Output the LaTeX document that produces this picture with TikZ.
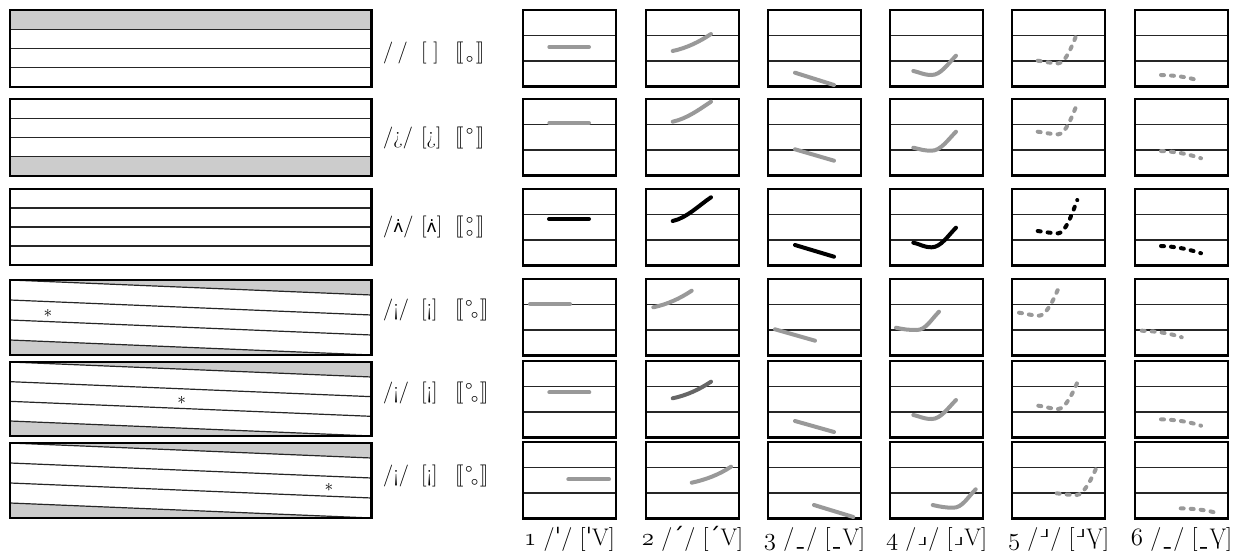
\documentclass[tikz,border=0pt]{standalone}
\usepackage{fontspec}
\usepackage{graphicx}
\newfontfamily\ipa{DejaVu Sans}
\newcommand\dlb{[\kern-0.13em[}
\newcommand\drb{]\kern-0.13em]}
\newcommand\rdn{\raisebox{-0.58em}{°}}
\newcommand\osn[1]{$\mathnormal{#1}$}
\newcommand\lowfoot{{\ipa\scalebox{1}[0.5]{˩}}}
\newcommand\highfoot{\raisebox{0.33em}{\lowfoot}}
\newcommand\inbox[3]{\begin{scope}[shift={(#1,#2)}]#3\end{scope}}
\newcommand\cRise[3]{\draw[#1] #2 .. controls +(14,-3) and +(-12,8) .. #3;}
\newcommand\cFall[3]{\draw[#1,dots] #2 .. controls +(15,0.5) and +(-12,-4) .. #3;}
\newcommand\cHookA[4]{\draw[#1] #2 .. controls +(8,1.8) and +(-8,0) .. #3 .. controls +(9,0) and +(-8,8) .. #4;}
\newcommand\cHookB[4]{\draw[#1,dots] #2 .. controls +(8,1) and +(-7,0) .. #3 .. controls +(7,0) and +(-5,13) .. #4;}
\newcommand\Vmark{\ooalign{V\cr\hidewidth{\ipa ˌ}\hidewidth\cr}}
\newcommand\wedot{{\ipa\fontsize{17}{17}\selectfont ʌ̇}}
\begin{document}
\begin{tikzpicture}[x=1pt,y=-1pt,
  frame/.style={line width=2.8pt},
  rule/.style={line width=1.2pt, black!85},
  shade/.style={fill=black!20},
  ctr/.style={line width=4pt, line cap=round, black!40},
  ctrdark/.style={ctr, black!60},
  ctrblack/.style={ctr, black},
  dots/.style={dash pattern=on 3pt off 7pt},
  lab/.style={anchor=base west, inner sep=0pt, font=\fontsize{22}{22}\selectfont},
  blab/.style={anchor=base, inner sep=0pt, font=\fontsize{24}{24}\selectfont},
  ast/.style={inner sep=0pt, font=\fontsize{17}{17}\selectfont},
]
\useasboundingbox (0,0) rectangle (1251,559);

% ---------- left boxes, level ----------
\fill[shade] (10,10) rectangle (371.5,29.25);
\draw[rule] (10,29.25) -- (371.5,29.25) (10,48.5) -- (371.5,48.5) (10,67.75) -- (371.5,67.75);
\draw[frame] (10,10) rectangle (371.5,87);

\fill[shade] (10,156.75) rectangle (371.5,176);
\draw[rule] (10,118.25) -- (371.5,118.25) (10,137.5) -- (371.5,137.5) (10,156.75) -- (371.5,156.75);
\draw[frame] (10,99) rectangle (371.5,176);

\draw[rule] (10,208) -- (371.5,208) (10,227) -- (371.5,227) (10,246) -- (371.5,246);
\draw[frame] (10,189) rectangle (371.5,265);

% ---------- left boxes, declining ----------
\foreach \T/\H in {280/75, 362/74, 443/75}{
  \fill[shade] (10,\T) -- (371.5,\T) -- (371.5,\T+15) -- cycle;
  \fill[shade] (10,\T+\H-15) -- (371.5,\T+\H) -- (10,\T+\H) -- cycle;
  \foreach \k in {0,1,2,3}{
    \draw[rule] (10,{\T+\k*(\H-15)/3}) -- (371.5,{\T+15+\k*(\H-15)/3});
  }
  \draw[frame] (10,\T) rectangle (371.5,\T+\H);
}
\node[ast] (ast4) at (48,313) {$\ast$};
\node[ast] (ast5) at (181.7,400) {$\ast$};
\node[ast] (ast6) at (329,487.3) {$\ast$};

% ---------- side labels ----------
\node[lab] (p1) at (383,58.5) {/\kern0.2em/};
\node[lab] (b1) at (421,58.5) {[\kern0.3em]};
\node[lab] (d1) at (455,58.5) {\dlb\kern0.12em\rdn\kern0.12em\drb};

\node[lab] (p2) at (383,143.3) {/¿/};
\node[lab] (b2) at (421,143.3) {[¿]};
\node[lab] (d2) at (455,143.3) {\dlb\kern0.12em°\kern0.12em\drb};

\node[lab] (p3) at (383,233) {/\wedot/};
\node[lab] (b3) at (421,233) {[\wedot]};
\node[lab] (d3) at (455,233) {\dlb\kern0.12em\ooalign{°\cr\rdn\cr}\kern0.12em\drb};

\foreach \r/\yb in {4/315, 5/398.3, 6/481.7}{
  \node[lab] (p\r) at (383,\yb) {/¡/};
  \node[lab] (b\r) at (421,\yb) {[¡]};
  \node[lab] (d\r) at (455,\yb) {\dlb\kern0.08em°\kern-0.08em\rdn\kern0.08em\drb};
}

% ---------- small boxes ----------
\foreach \x in {523,646,768,890,1012,1135}{
  \foreach \y in {10,99,189,279,361,442}{
    \draw[rule] (\x,\y+25.5) -- (\x+93,\y+25.5) (\x,\y+51) -- (\x+93,\y+51);
    \draw[frame] (\x,\y) rectangle (\x+93,\y+76.5);
  }
}

% ---------- contours ----------
% row 1
\inbox{523}{10}{\draw[ctr] (26.3,37) -- (66,37);}
\inbox{646}{10}{\cRise{ctr}{(26.7,41)}{(65,24)}}
\inbox{768}{10}{\draw[ctr] (27,62.7) -- (66,75);}
\inbox{890}{10}{\cHookA{ctr}{(23.3,61)}{(41.7,65)}{(66,45.7)}}
\inbox{1012}{10}{\cHookB{ctr}{(25.7,50.7)}{(46.3,53.3)}{(65.3,22.7)}}
\inbox{1135}{10}{\cFall{ctr}{(26,65)}{(65,71)}}
% row 2
\inbox{523}{99}{\draw[ctr] (26.3,24) -- (66,24);}
\inbox{646}{99}{\cRise{ctr}{(26.7,22.7)}{(65,2.7)}}
\inbox{768}{99}{\draw[ctr] (27,50.3) -- (66,61.7);}
\inbox{890}{99}{\cHookA{ctr}{(23.3,48.7)}{(41.7,51.7)}{(66,32.7)}}
\inbox{1012}{99}{\cHookB{ctr}{(25.7,32.7)}{(46.3,35.3)}{(65.3,4.3)}}
\inbox{1135}{99}{\cFall{ctr}{(26,52)}{(66,59.3)}}
% row 3
\inbox{523}{189}{\draw[ctrblack] (26,30) -- (66,30);}
\inbox{646}{189}{\cRise{ctrblack}{(26.7,32)}{(65,8.3)}}
\inbox{768}{189}{\draw[ctrblack] (27,56) -- (66,67.7);}
\inbox{890}{189}{\cHookA{ctrblack}{(23.3,53.7)}{(41.7,58.3)}{(66,38.7)}}
\inbox{1012}{189}{\cHookB{ctrblack}{(25.7,42)}{(46.3,44.3)}{(65.3,11)}}
\inbox{1135}{189}{\cFall{ctrblack}{(26,57)}{(66,64.3)}}
% row 4
\inbox{523}{279}{\draw[ctr] (7,25.3) -- (47,25.3);}
\inbox{646}{279}{\cRise{ctr}{(7.3,28.3)}{(45.7,11.7)}}
\inbox{768}{279}{\draw[ctr] (7,50.3) -- (47,61.7);}
\inbox{890}{279}{\cHookA{ctr}{(6,48.7)}{(26.7,51)}{(49,32.7)}}
\inbox{1012}{279}{\cHookB{ctr}{(7,33.7)}{(27.3,36.7)}{(48,5.3)}}
\inbox{1135}{279}{\cFall{ctr}{(6.7,51.7)}{(46.7,58.3)}}
% row 5
\inbox{523}{361}{\draw[ctr] (26.3,31.3) -- (66.3,31.3);}
\inbox{646}{361}{\cRise{ctrdark}{(26.7,37.3)}{(65,20.7)}}
\inbox{768}{361}{\draw[ctr] (27,60) -- (66,71);}
\inbox{890}{361}{\cHookA{ctr}{(23.3,54)}{(41.7,58)}{(66,39)}}
\inbox{1012}{361}{\cHookB{ctr}{(26.3,44.7)}{(46.3,48)}{(67,17.3)}}
\inbox{1135}{361}{\cFall{ctr}{(26,58.3)}{(66,64.7)}}
% row 6
\inbox{523}{442}{\draw[ctr] (45.3,37.3) -- (86,37.3);}
\inbox{646}{442}{\cRise{ctr}{(45.7,40.7)}{(85,24.7)}}
\inbox{768}{442}{\draw[ctr] (46,63) -- (85.3,75);}
\inbox{890}{442}{\cHookA{ctr}{(42.7,63)}{(63.3,65.7)}{(85.7,47.3)}}
\inbox{1012}{442}{\cHookB{ctr}{(44.7,51.3)}{(64.7,53)}{(85.7,22.3)}}
\inbox{1135}{442}{\cFall{ctr}{(45.7,66.3)}{(85,72)}}

% ---------- bottom labels ----------
\node[blab] (l1) at (569.5,545) {\osn{1} /{\ipa ˈ}/ [{\ipa ˈ}V]};
\node[blab] (l2) at (692.5,545) {\osn{2} /{\ipa ˊ}/ [{\ipa ˊ}V]};
\node[blab] (l3) at (814.5,545) {\osn{3} /{\ipa ˍ}/ [{\ipa ˍ}V]};
\node[blab] (l4) at (936.5,545) {\osn{4} /\lowfoot/ [\lowfoot V]};
\node[blab] (l5) at (1058.5,545) {\osn{5} /\highfoot/ [\highfoot\Vmark]};
\node[blab] (l6) at (1181.5,545) {\osn{6} /{\ipa ˍ}/ [{\ipa ˍ}\Vmark]};
\end{tikzpicture}
\end{document}
